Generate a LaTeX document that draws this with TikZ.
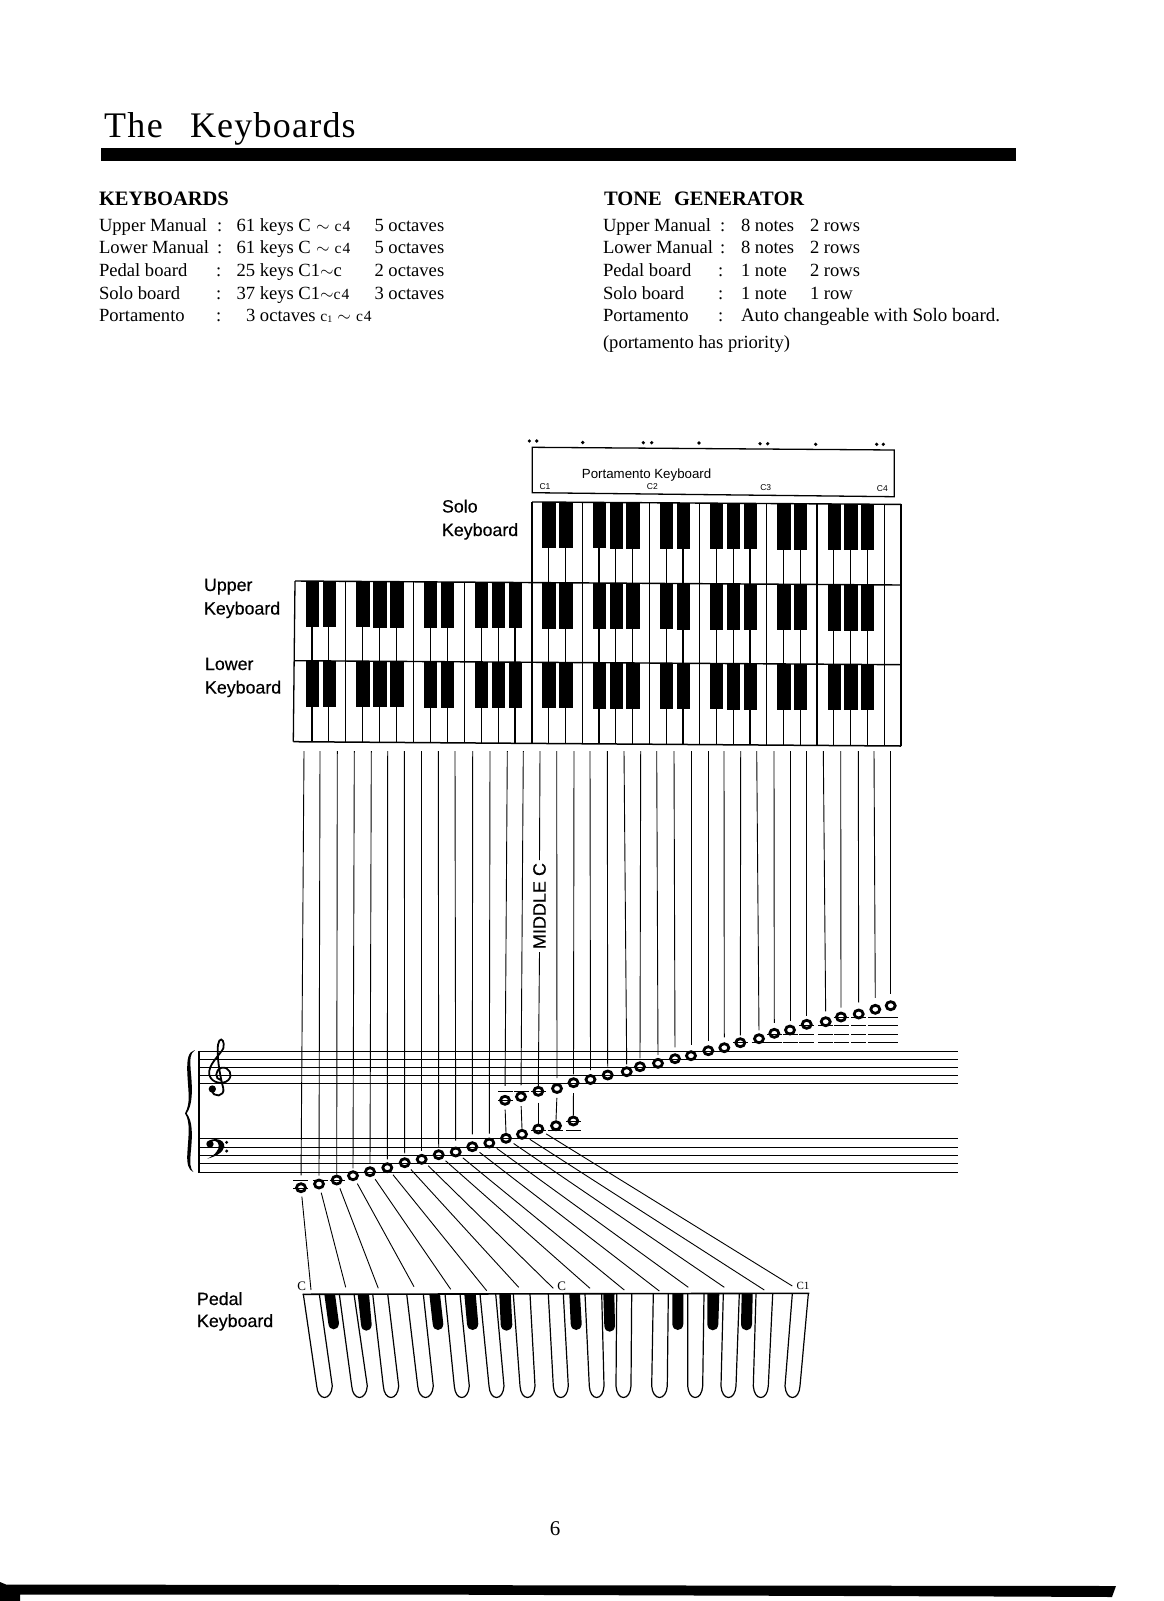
\documentclass[tikz,border=0pt]{standalone}
\usepackage{fontspec}
\usetikzlibrary{shapes.geometric}
\setmainfont{Liberation Serif}
\newfontfamily\sansf{Liberation Sans}
\newfontfamily\sansb[FakeBold=0.35]{Liberation Sans}
\newcommand{\sm}[1]{{\fontsize{15.5}{15.5}\selectfont #1}}
\newcommand{\cf}{\sm{c\kern1pt 4}}
\newcommand{\tld}{\;$\sim$\;}
\tikzset{
  txt/.style={anchor=base west,inner sep=0pt,outer sep=0pt,font=\fontsize{18.6}{18.6}\selectfont},
  hdr/.style={anchor=base west,inner sep=0pt,outer sep=0pt,font=\fontsize{20.5}{20.5}\selectfont\bfseries},
  ttl/.style={anchor=base west,inner sep=0pt,outer sep=0pt,font=\fontsize{36}{36}\selectfont},
  lbl/.style={anchor=base west,inner sep=0pt,outer sep=0pt,font=\sansb\fontsize{17.8}{17.8}\selectfont},
  tiny/.style={inner sep=0pt,outer sep=0pt,font=\sansf\fontsize{8.5}{9}\selectfont},
  ctag/.style={inner sep=0pt,outer sep=0pt},
  notehead/.style={ellipse,draw=black,line width=2.8pt,minimum width=9pt,minimum height=8pt,inner sep=0pt,outer sep=1.4pt},
  keyline/.style={line width=1.2pt,black},
  staffline/.style={line width=1pt,black},
  ledger/.style={line width=1pt,black},
  vline/.style={line width=0.9pt,black},
  pline/.style={line width=0.9pt,black},
  pedal/.style={line width=1.2pt,black}
}
\begin{document}
\begin{tikzpicture}[x=1pt,y=-1pt]
\fill[white] (0,0) rectangle (1163,1601);
\useasboundingbox (0,0) rectangle (1163,1601);

% ---------- heading
\node[ttl] (title1) at (104,137) {\addfontfeature{LetterSpace=4}The};
\node[ttl] (title2) at (190,137) {\addfontfeature{LetterSpace=3.4}Keyboards};
\fill (101,148) rectangle (1016,161);

% ---------- left column
\node[hdr] (kh) at (99,205) {KEYBOARDS};
\node[txt] (l1a) at (99,231) {Upper Manual};   \node[txt] (l1c) at (217,231) {:};
\node[txt] (l1b) at (236.5,231) {61 keys C\tld\cf}; \node[txt] (l1d) at (374.5,231) {5 octaves};
\node[txt] (l2a) at (99,253.5) {Lower Manual}; \node[txt] (l2c) at (217,253.5) {:};
\node[txt] (l2b) at (236.5,253.5) {61 keys C\tld\cf}; \node[txt] (l2d) at (374.5,253.5) {5 octaves};
\node[txt] (l3a) at (99,276.5) {Pedal board};  \node[txt] (l3c) at (216,276.5) {:};
\node[txt] (l3b) at (236.5,276.5) {25 keys C1$\sim$c}; \node[txt] (l3d) at (374.5,276.5) {2 octaves};
\node[txt] (l4a) at (99,299) {Solo board};     \node[txt] (l4c) at (216,299) {:};
\node[txt] (l4b) at (236.5,299) {37 keys C1$\sim$\cf}; \node[txt] (l4d) at (374.5,299) {3 octaves};
\node[txt] (l5a) at (99,321.5) {Portamento};     \node[txt] (l5c) at (216,321.5) {:};
\node[txt] (l5b) at (246,321.5) {3 octaves \sm{c\raisebox{-1pt}{\fontsize{10}{10}\selectfont 1}}\tld\cf};

% ---------- right column
\node[hdr] (th) at (604,205) {TONE\hspace{0.35em} GENERATOR};
\node[txt] (r1a) at (603,231) {Upper Manual};  \node[txt] (r1c) at (720,231) {:};
\node[txt] (r1b) at (741,231) {8 notes}; \node[txt] (r1d) at (810,231) {2 rows};
\node[txt] (r2a) at (603,253.5) {Lower Manual};\node[txt] (r2c) at (720,253.5) {:};
\node[txt] (r2b) at (741,253.5) {8 notes}; \node[txt] (r2d) at (810,253.5) {2 rows};
\node[txt] (r3a) at (603,276.5) {Pedal board}; \node[txt] (r3c) at (718,276.5) {:};
\node[txt] (r3b) at (741,276.5) {1 note}; \node[txt] (r3d) at (810,276.5) {2 rows};
\node[txt] (r4a) at (603,299) {Solo board};    \node[txt] (r4c) at (718,299) {:};
\node[txt] (r4b) at (741,299) {1 note}; \node[txt] (r4d) at (810,299) {1 row};
\node[txt] (r5a) at (603,321.5) {Portamento};    \node[txt] (r5c) at (718,321.5) {:};
\node[txt,font=\fontsize{19}{19}\selectfont] (r5b) at (741,321.5) {Auto changeable with Solo board.};
\node[txt] (r6a) at (603,348) {(portamento has priority)};

% ---------- portamento box
\foreach \dx/\dy in {529.3/441,536.7/441,582.7/442.5,643.3/442.7,651.7/442.7,699/443,760/443.7,767.7/443.7,815.7/444.3,876.7/444.3,883.3/444.3}
  \fill (\dx,\dy) circle (1.8);
\draw[line width=1.3pt] (532.3,447.3) -- (894.3,450) -- (894.3,496.7) -- (532.3,492.7) -- cycle;
\node[anchor=base west,inner sep=0pt,font=\sansf\fontsize{13.3}{13.3}\selectfont] (pk) at (581.7,478) {Portamento Keyboard};
\node[tiny] (c1) at (545,486.7) {C1};
\node[tiny] (c2) at (652.3,486.7) {C2};
\node[tiny] (c3) at (765.7,487.3) {C3};
\node[tiny] (c4) at (882.3,489) {C4};

% ---------- manuals
\foreach \rowtop/\first in {500.4/14,581/0,660.7/0}{
  \pgfmathsetmacro{\rowbot}{\rowtop+(\rowtop<500.5?80.6:(\rowtop<590?79.7:81))}
  \foreach \i in {\first,...,36}{
    \pgfmathsetmacro{\xk}{\i<=14 ? 295+16.93*\i : 532+16.77*(\i-14)}
    \pgfmathsetmacro{\yt}{\rowtop+(\xk-295)*0.0066}
    \pgfmathsetmacro{\yb}{\rowbot+(\xk-295)*0.0066}
    \ifnum\i>0
      \draw[keyline] (\xk,\yt) -- (\xk,\yb);
    \fi
    \pgfmathtruncatemacro{\m}{mod(\i,7)}
    \ifnum\i<36
      \ifnum\m=0\else\ifnum\m=3\else
        \fill (\xk-6.3,\yt) rectangle (\xk+7,\yt+46);
      \fi\fi
    \fi
  }
  \pgfmathsetmacro{\xs}{\first==0 ? 295 : 532}
  \draw[line width=1.4pt] (\xs,\rowtop+\xs*0.0066-1.947) -- (901,\rowtop+4);
}
\draw[line width=1.5pt] (293.3,741.7) -- (901,746);
\draw[line width=1.3pt] (295,581) -- (293.3,741.7);

% ---------- keyboard labels
\node[lbl] (sol1) at (442,512.5) {Solo};
\node[lbl] (sol2) at (442,536) {Keyboard};
\node[lbl] (upp1) at (204,591) {Upper};
\node[lbl] (upp2) at (204,614.5) {Keyboard};
\node[lbl] (low1) at (205,670) {Lower};
\node[lbl] (low2) at (205,693.5) {Keyboard};
\node[lbl] (ped1) at (197,1305) {Pedal};
\node[lbl] (ped2) at (197,1327) {Keyboard};

% ---------- staves
\foreach \sy in {1051,1059,1067.2,1075,1083.5,1138.7,1147.2,1155.2,1163.3,1172}
  \draw[staffline] (199,\sy) -- (958,\sy);
\draw[line width=1.1pt] (199,1050.5) -- (199,1172.5);

\begin{scope}[shift={(170,1020)},scale=0.33333]
  % brace
  \fill (75,90) .. controls (55,95) and (50,115) .. (52,160) .. controls (55,220) and (62,250) .. (45,280)
    .. controls (62,305) and (55,350) .. (52,400) .. controls (50,430) and (55,450) .. (70,456)
    .. controls (60,445) and (60,430) .. (62,400) .. controls (68,340) and (68,305) .. (50,280)
    .. controls (68,255) and (68,210) .. (62,150) .. controls (60,115) and (60,100) .. (75,90) -- cycle;
  % treble clef
  \draw[line width=1.8pt] (152,180) .. controls (135,178) and (133,150) .. (155,143)
    .. controls (178,140) and (190,165) .. (175,180) .. controls (160,195) and (125,190) .. (118,165)
    .. controls (112,135) and (150,105) .. (160,85) .. controls (165,65) and (155,52) .. (148,62)
    .. controls (135,85) and (150,170) .. (160,205) .. controls (165,230) and (130,235) .. (125,210);
  \fill (127,207) circle (11);
  % bass clef
  \fill (120,372) circle (11);
  \fill (110,368) .. controls (125,350) and (165,355) .. (163,380) .. controls (160,398) and (135,410) .. (112,416)
     .. controls (135,405) and (148,390) .. (146,375) .. controls (145,360) and (125,358) .. (118,372) -- cycle;
  \fill (170,367) circle (5);
  \fill (170,393) circle (5);
\end{scope}

% ---------- ledgers, notes and lines from the keys
\foreach \lx/\ly in {300.5/1180,300.5/1188,320/1180,337/1180,505.5/1091.3,505.5/1100.3,521/1091.3,538.5/1091.3,538.5/1130,555/1130,573.5/1130,573.5/1121.5}
  \draw[ledger] (\lx-7.5,\ly) -- (\lx+7.5,\ly);
\foreach \lx in {740.3,759,774.3,790,806.7,825.7,841,858.7,875.3,890.7}
  \draw[ledger] (\lx-7.5,1042.7) -- (\lx+7.5,1042.7);
\foreach \lx in {774.3,790,806.7,825.7,841,858.7,875.3,890.7}
  \draw[ledger] (\lx-7.5,1034) -- (\lx+7.5,1034);
\foreach \lx in {806.7,825.7,841,858.7,875.3,890.7}
  \draw[ledger] (\lx-7.5,1025.7) -- (\lx+7.5,1025.7);
\foreach \lx in {841,858.7,875.3,890.7}
  \draw[ledger] (\lx-7.5,1017.3) -- (\lx+7.5,1017.3);

\foreach \i/\nx/\ny in {0/301/1187.7,1/319/1184,2/336.7/1180,3/353/1175.7,4/370/1171.7,5/387.3/1167.7,6/404.7/1162.7,7/421.7/1159.3,8/438.7/1154.7,9/455.7/1152,10/472.3/1146.7,11/489.3/1143,12/506/1138.3,13/522/1134.3,14/538.3/1129,15/556/1125.7,16/573.3/1121}
  \node[notehead] (b\i) at (\nx,\ny) {};
\foreach \i/\nx/\ny in {12/505/1100.3,13/521/1096.7,14/538.3/1091.3,15/557/1088.5,16/573.5/1082.7,17/590.5/1079.5,18/607.7/1075,19/626.7/1071.7,20/640/1066.7,21/658/1063.3,22/675/1058.7,23/691/1055.7,24/708.3/1050.7,25/724.3/1047.7,26/740.3/1042.7,27/759/1038.7,28/774.3/1033.3,29/790/1030,30/806.7/1024.3,31/825.7/1021.7,32/841/1017,33/858.7/1014,34/875.3/1009.3,35/890.7/1005.7}
  \node[notehead] (t\i) at (\nx,\ny) {};

\foreach \i/\kx in {0/304,1/320,2/337.3,3/354.3,4/371.3,5/387.7,6/404.3,7/421.7,8/438.3,9/455,10/472.7,11/490,12/507.3,13/523.3,14/540,15/556.7,16/574,17/590,18/607.3,19/624,20/640.7,21/656.7,22/674,23/691,24/708.3,25/724,26/740.7,27/756.7,28/774,29/790,30/806.7,31/823.3,32/840.7,33/858.3,34/874,35/890.7}
  \coordinate (k\i) at (\kx,751);

\foreach \i/\sh in {0/7,1/3,2/0,3/2,4/3,5/3,6/4,7/3,8/2,9/6,10/7,11/4}
  \draw[vline,shorten >=\sh pt] (k\i) -- (b\i.north);
\foreach \i/\sh in {12/9,13/6,15/5,16/3,17/4,18/3,19/2,20/3,21/3,22/6,23/5,24/4,25/5,26/2,27/3,28/5,29/4,30/3,31/5,32/4,33/6,34/6,35/6}
  \draw[vline,shorten >=\sh pt] (k\i) -- (t\i.north);
\foreach \i/\sa in {12/4,13/4,14/6,15/4,16/5}
  \draw[vline,shorten <=\sa pt] (t\i.south) -- (b\i.north);

\node[rotate=90,inner sep=0pt,outer sep=3pt,font=\sansb\fontsize{18}{18}\selectfont] (mid) at (539.5,906) {MIDDLE C};
\draw[vline] (k14) -- (mid.east);
\draw[vline] (mid.west) -- (t14.north);

% ---------- pedal keyboard
\foreach \tl/\tr/\bl/\br in {303.3/319.3/316.7/332.3,339.3/354/351.7/367.3,372.7/387.7/383.3/398.7,406.7/423.3/417.7/433.3,445/460/454.3/469.3,480/495.7/489/504,513.3/530/520/535,548.3/563.3/553.3/568.3,585/601.7/589.3/604,616.7/631.7/616/631,653.3/668.3/651.7/667.3,687.7/704/687.7/702.7,723.3/739.3/721/736,756/772.7/753.3/768.3,792.3/808.3/785/800}{
  \pgfmathsetmacro{\mx}{(\bl+\br)/2}
  \draw[pedal] (\tl,1294) -- (\bl,1386) .. controls (\bl+0.5,1393) and (\mx-4,1397.5) .. (\mx,1397.5)
     .. controls (\mx+4,1397.5) and (\br-0.5,1393) .. (\br,1386) -- (\tr,1294);
}
\foreach \tl/\tr/\bl/\br/\yb in {324.3/335/328.3/339/1329.3,357.7/369/361/371.7/1330.7,429.3/440/432.7/443.3/1330,464.3/475.7/467/478.3/1330,499.3/510.7/500.7/512.3/1330.7,569.3/580/570.7/581.7/1330,603.3/614.3/604.3/615/1331.7,672.3/683.3/672.3/683.3/1330,707.3/719.3/707.3/718.3/1330.3,741.7/752.7/741/752/1330.3}{
  \pgfmathsetmacro{\mx}{(\bl+\br)/2}
  \fill (\tl,1294) -- (\bl,\yb-6) .. controls (\bl+0.5,\yb-2) and (\mx-3,\yb) .. (\mx,\yb)
     .. controls (\mx+3,\yb) and (\br-0.5,\yb-2) .. (\br,\yb-6) -- (\tr,1294) -- cycle;
}
\draw[line width=1.6pt] (302.7,1294.3) -- (809.3,1293.3);
\node[ctag,font=\fontsize{13}{13}\selectfont] (pc0) at (301.7,1286) {C};
\node[ctag,font=\fontsize{13}{13}\selectfont] (pc1) at (561.7,1286.7) {C};
\node[ctag,font=\fontsize{11}{11}\selectfont] (pc2) at (803,1285.7) {C1};

\foreach \i/\ex/\ey in {0/311/1290,1/345.7/1287.3,2/378.3/1288.3,3/414/1286.7,4/450.7/1289.3,5/486.7/1290.7,6/518.7/1287.3,7/553.3/1288.3,8/590/1288.3,9/624.3/1290,10/659.3/1291,11/688.3/1287.3,12/724.3/1287.3,13/764.3/1290,14/792.3/1286}{
  \coordinate (pe\i) at (\ex,\ey);
  \draw[pline,shorten <=3.5pt] (b\i) -- (pe\i);
}

% ---------- page number and bottom band
\node[anchor=base,inner sep=0pt,font=\fontsize{21}{21}\selectfont] (pg) at (555,1535) {6};
\fill (0,1582) -- (6,1584.5) -- (700,1585.5) -- (1116,1586) -- (1112,1597) -- (1000,1596.5) -- (400,1594.5) -- (20,1594.5) -- (20,1601) -- (0,1601) -- cycle;
\end{tikzpicture}
\end{document}
